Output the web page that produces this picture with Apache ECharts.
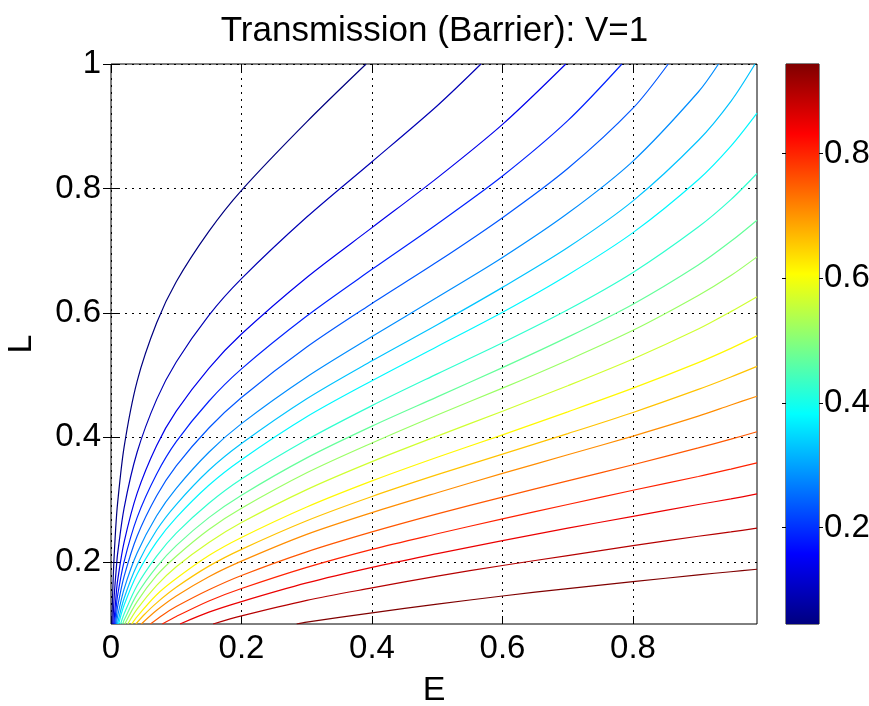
<!DOCTYPE html>
<html><head><meta charset="utf-8">
<script src="https://cdn.jsdelivr.net/npm/echarts@6/dist/echarts.min.js"></script>
<style>html,body{margin:0;padding:0;background:#fff}#chart{width:869px;height:706px}</style>
</head><body><div id="chart"></div>
<script>
const titleText = 'Transmission (Barrier): V=1';
const xName = 'E';
const yName = 'L';
const xTicks = [0, 0.2, 0.4, 0.6, 0.8];
const yTicks = [0.2, 0.4, 0.6, 0.8, 1];
const cbTicks = [0.2, 0.4, 0.6, 0.8];
const eRange = [0, 0.99];
const lRange = [0.1, 1];
const colorbarRange = [0.045, 0.944];
const levels = [0.045,0.092,0.140,0.187,0.234,0.282,0.329,0.376,0.424,0.471,0.518,0.565,0.613,0.660,0.707,0.755,0.802,0.849,0.897,0.944];

const contour01 = [[0.00135,0.1],[0.00257,0.15],[0.00439,0.2],[0.00698,0.25],[0.01,0.293],[0.02,0.384],[0.04,0.49],[0.07,0.584],[0.1,0.65],[0.15,0.731],[0.2,0.797],[0.3,0.907],[0.391,1.0]];
const contour02 = [[0.00275,0.1],[0.00522,0.15],[0.00893,0.2],[0.01,0.212],[0.02,0.286],[0.04,0.376],[0.07,0.461],[0.1,0.521],[0.15,0.596],[0.2,0.655],[0.3,0.754],[0.4,0.843],[0.5,0.933],[0.567,1.0]];
const contour03 = [[0.00427,0.1],[0.00811,0.15],[0.01,0.169],[0.02,0.231],[0.04,0.31],[0.07,0.387],[0.1,0.442],[0.15,0.511],[0.2,0.566],[0.3,0.657],[0.4,0.737],[0.5,0.817],[0.6,0.903],[0.697,1.0]];
const contour04 = [[0.00562,0.1],[0.00736,0.12],[0.01,0.145],[0.02,0.2],[0.04,0.271],[0.07,0.341],[0.1,0.393],[0.15,0.458],[0.2,0.51],[0.3,0.595],[0.4,0.67],[0.5,0.743],[0.6,0.82],[0.7,0.909],[0.783,1.0]];
const contour05 = [[0.00698,0.1],[0.00856,0.115],[0.01,0.127],[0.02,0.176],[0.04,0.241],[0.07,0.306],[0.1,0.354],[0.15,0.415],[0.2,0.464],[0.3,0.545],[0.4,0.615],[0.5,0.682],[0.6,0.753],[0.7,0.832],[0.8,0.929],[0.854,1.0]];
const contour06 = [[0.00852,0.1],[0.01,0.112],[0.02,0.156],[0.04,0.214],[0.07,0.274],[0.1,0.318],[0.15,0.376],[0.2,0.422],[0.3,0.497],[0.4,0.562],[0.5,0.625],[0.6,0.689],[0.7,0.76],[0.8,0.844],[0.9,0.955],[0.931,1.0]];
const contour07 = [[0.00986,0.1],[0.02,0.141],[0.04,0.195],[0.07,0.251],[0.1,0.292],[0.15,0.347],[0.2,0.39],[0.3,0.462],[0.4,0.523],[0.5,0.581],[0.6,0.641],[0.7,0.705],[0.8,0.78],[0.9,0.877],[0.95,0.94],[0.987,1.0]];
const contour08 = [[0.0117,0.1],[0.02,0.13],[0.04,0.18],[0.07,0.232],[0.1,0.271],[0.15,0.323],[0.2,0.364],[0.3,0.433],[0.4,0.491],[0.5,0.546],[0.6,0.601],[0.7,0.661],[0.8,0.729],[0.9,0.814],[0.95,0.868],[0.99,0.921]];
const contour09 = [[0.0147,0.1],[0.02,0.116],[0.04,0.162],[0.07,0.209],[0.1,0.246],[0.15,0.294],[0.2,0.333],[0.3,0.396],[0.4,0.451],[0.5,0.502],[0.6,0.552],[0.7,0.605],[0.8,0.665],[0.9,0.738],[0.95,0.782],[0.99,0.824]];
const contour10 = [[0.0179,0.1],[0.02,0.106],[0.04,0.148],[0.07,0.192],[0.1,0.226],[0.15,0.271],[0.2,0.307],[0.3,0.367],[0.4,0.418],[0.5,0.465],[0.6,0.512],[0.7,0.561],[0.8,0.614],[0.9,0.677],[0.95,0.715],[0.99,0.749]];
const contour11 = [[0.0211,0.1],[0.04,0.136],[0.07,0.178],[0.1,0.209],[0.15,0.252],[0.2,0.286],[0.3,0.343],[0.4,0.391],[0.5,0.436],[0.6,0.479],[0.7,0.524],[0.8,0.572],[0.9,0.628],[0.95,0.66],[0.99,0.69]];
const contour12 = [[0.0256,0.1],[0.04,0.124],[0.07,0.162],[0.1,0.192],[0.15,0.231],[0.2,0.263],[0.3,0.316],[0.4,0.361],[0.5,0.402],[0.6,0.442],[0.7,0.483],[0.8,0.526],[0.9,0.574],[0.95,0.602],[0.99,0.626]];
const contour13 = [[0.0317,0.1],[0.04,0.112],[0.07,0.147],[0.1,0.173],[0.15,0.21],[0.2,0.239],[0.3,0.288],[0.4,0.33],[0.5,0.368],[0.6,0.404],[0.7,0.441],[0.8,0.479],[0.9,0.52],[0.95,0.543],[0.99,0.563]];
const contour14 = [[0.0382,0.1],[0.05,0.114],[0.07,0.134],[0.1,0.159],[0.15,0.193],[0.2,0.22],[0.3,0.266],[0.4,0.305],[0.5,0.34],[0.6,0.373],[0.7,0.406],[0.8,0.44],[0.9,0.477],[0.95,0.497],[0.99,0.514]];
const contour15 = [[0.0465,0.1],[0.07,0.122],[0.1,0.145],[0.15,0.176],[0.2,0.201],[0.3,0.244],[0.4,0.279],[0.5,0.311],[0.6,0.342],[0.7,0.372],[0.8,0.402],[0.9,0.434],[0.95,0.452],[0.99,0.466]];
const contour16 = [[0.0604,0.1],[0.08,0.115],[0.1,0.128],[0.15,0.155],[0.2,0.178],[0.3,0.216],[0.4,0.248],[0.5,0.277],[0.6,0.304],[0.7,0.33],[0.8,0.356],[0.9,0.383],[0.95,0.397],[0.99,0.409]];
const contour17 = [[0.0786,0.1],[0.1,0.112],[0.15,0.137],[0.2,0.157],[0.3,0.191],[0.4,0.22],[0.5,0.245],[0.6,0.269],[0.7,0.292],[0.8,0.315],[0.9,0.337],[0.95,0.349],[0.99,0.359]];
const contour18 = [[0.1058,0.1],[0.15,0.119],[0.2,0.136],[0.3,0.166],[0.4,0.191],[0.5,0.213],[0.6,0.234],[0.7,0.254],[0.8,0.273],[0.9,0.292],[0.95,0.301],[0.99,0.309]];
const contour19 = [[0.1565,0.1],[0.2,0.113],[0.3,0.138],[0.4,0.158],[0.5,0.177],[0.6,0.194],[0.7,0.21],[0.8,0.226],[0.9,0.241],[0.95,0.248],[0.99,0.254]];
const contour20 = [[0.2845,0.1],[0.3,0.103],[0.4,0.118],[0.5,0.132],[0.6,0.145],[0.7,0.157],[0.8,0.168],[0.9,0.179],[0.95,0.184],[0.99,0.188]];

const contourPaths = [contour01,contour02,contour03,contour04,contour05,contour06,contour07,contour08,contour09,contour10,
  contour11,contour12,contour13,contour14,contour15,contour16,contour17,contour18,contour19,contour20];

function clamp01(v){ return Math.max(0, Math.min(1, v)); }
function jet(t){
  t = clamp01(t);
  const r = clamp01(Math.min(4*t - 1.5, -4*t + 4.5));
  const g = clamp01(Math.min(4*t - 0.5, -4*t + 3.5));
  const b = clamp01(Math.min(4*t + 0.5, -4*t + 2.5));
  return 'rgb(' + Math.round(r*255) + ',' + Math.round(g*255) + ',' + Math.round(b*255) + ')';
}
const FONT = "'Liberation Sans', Arial, Helvetica, sans-serif";
const cmin = colorbarRange[0], cmax = colorbarRange[1];

const chart = echarts.init(document.getElementById('chart'), null, {renderer: 'canvas'});

const lineSeries = contourPaths.map((path, i) => ({
  type: 'line',
  xAxisIndex: 0, yAxisIndex: 0,
  data: path,
  showSymbol: false,
  symbol: 'none',
  smooth: 0.3,
  clip: true,
  silent: true,
  z: 3,
  lineStyle: { color: jet((levels[i] - cmin) / (cmax - cmin)), width: 1.2 }
}));

const gradStops = [0, 0.125, 0.25, 0.375, 0.5, 0.625, 0.75, 0.875, 1].map(t => ({ offset: t, color: jet(t) }));

const axisFont = { fontFamily: FONT, fontSize: 33, color: '#000' };
const gridDots = { color: '#000', type: [2, 5], width: 1 };

const option = {
  animation: false,
  backgroundColor: '#fff',
  title: {
    text: titleText,
    left: 'center', top: 9,
    textStyle: { fontFamily: FONT, fontSize: 35, fontWeight: 'normal', color: '#000' }
  },
  grid: [
    { left: 111, top: 64, width: 646, height: 560, show: true, borderColor: '#000', borderWidth: 1,
      backgroundColor: 'transparent', containLabel: false, outerBoundsMode: 'none' },
    { left: 786, top: 64, width: 33, height: 560, show: true, borderColor: '#000', borderWidth: 1,
      backgroundColor: 'transparent', containLabel: false, outerBoundsMode: 'none' }
  ],
  xAxis: [
    {
      gridIndex: 0, type: 'value', min: eRange[0], max: eRange[1], position: 'bottom',
      name: xName, nameLocation: 'middle', nameGap: 50,
      nameTextStyle: Object.assign({}, axisFont, { fontSize: 34 }),
      axisLine: { show: false },
      axisTick: { show: true, inside: true, length: 8, customValues: xTicks, lineStyle: { color: '#000', width: 1 } },
      axisLabel: { show: true, customValues: xTicks, margin: 8, ...axisFont },
      splitLine: { show: true, lineStyle: gridDots }
    },
    {
      gridIndex: 0, type: 'value', min: eRange[0], max: eRange[1], position: 'top',
      axisLine: { show: false },
      axisTick: { show: true, inside: true, length: 8, customValues: xTicks, lineStyle: { color: '#000', width: 1 } },
      axisLabel: { show: false },
      splitLine: { show: false }
    },
    {
      gridIndex: 1, type: 'category', data: ['cb'], show: false
    }
  ],
  yAxis: [
    {
      gridIndex: 0, type: 'value', min: lRange[0], max: lRange[1], position: 'left',
      name: yName, nameLocation: 'middle', nameGap: 72,
      nameTextStyle: Object.assign({}, axisFont, { fontSize: 34 }),
      axisLine: { show: false },
      axisTick: { show: true, inside: true, length: 8, customValues: yTicks, lineStyle: { color: '#000', width: 1 } },
      axisLabel: { show: true, customValues: yTicks, margin: 10, ...axisFont },
      splitLine: { show: true, lineStyle: gridDots }
    },
    {
      gridIndex: 0, type: 'value', min: lRange[0], max: lRange[1], position: 'right',
      axisLine: { show: false },
      axisTick: { show: true, inside: true, length: 8, customValues: yTicks, lineStyle: { color: '#000', width: 1 } },
      axisLabel: { show: false },
      splitLine: { show: false }
    },
    {
      gridIndex: 1, type: 'value', min: cmin, max: cmax, position: 'right',
      axisLine: { show: false },
      axisTick: { show: true, inside: false, length: 4, customValues: cbTicks, lineStyle: { color: '#000', width: 1 } },
      axisLabel: { show: true, customValues: cbTicks, margin: 5, ...axisFont },
      splitLine: { show: false }
    },
    {
      gridIndex: 1, type: 'value', min: cmin, max: cmax, position: 'left',
      axisLine: { show: false },
      axisTick: { show: true, inside: false, length: 4, customValues: cbTicks, lineStyle: { color: '#000', width: 1 } },
      axisLabel: { show: false },
      splitLine: { show: false }
    }
  ],
  series: [
    {
      type: 'bar', xAxisIndex: 2, yAxisIndex: 2, stack: 'cb', barWidth: '100%', silent: true,
      data: [colorbarRange[0]], itemStyle: { opacity: 0 }
    },
    {
      type: 'bar', xAxisIndex: 2, yAxisIndex: 2, stack: 'cb', barWidth: '100%', silent: true, z: 1,
      data: [colorbarRange[1] - colorbarRange[0]],
      itemStyle: { color: new echarts.graphic.LinearGradient(0, 1, 0, 0, gradStops) }
    }
  ].concat(lineSeries)
};
chart.setOption(option);
</script>
</body></html>
